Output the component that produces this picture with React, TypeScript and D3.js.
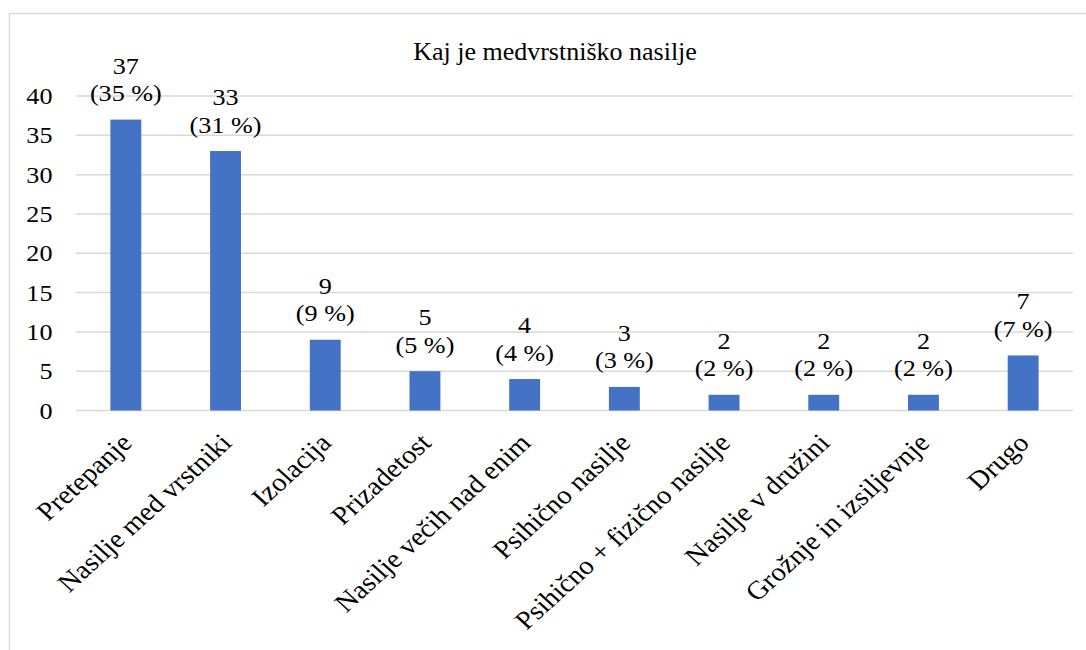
import React from "react";
import * as d3 from "d3";

const categories = [
  "Pretepanje",
  "Nasilje med vrstniki",
  "Izolacija",
  "Prizadetost",
  "Nasilje večih nad enim",
  "Psihično nasilje",
  "Psihično + fizično nasilje",
  "Nasilje v družini",
  "Grožnje in izsiljevnje",
  "Drugo",
];
const counts = [37, 33, 9, 5, 4, 3, 2, 2, 2, 7];
const percents = [35, 31, 9, 5, 4, 3, 2, 2, 2, 7];
const yTicks = [0, 5, 10, 15, 20, 25, 30, 35, 40];
const title = "Kaj je medvrstniško nasilje";

const W = 1086;
const H = 650;
const FONT = "Liberation Serif";
const ts: React.CSSProperties = { fontFamily: FONT };
const SX = 1.09;
const SX_CAT = 1.1;

export default function App() {
  const x = d3
    .scaleBand<string>()
    .domain(categories)
    .range([76, 1073])
    .paddingInner(0.69)
    .paddingOuter(0.345);
  const y = d3.scaleLinear().domain([0, 40]).range([410.5, 96]);

  return (
    <svg
      width={W}
      height={H}
      style={{ position: "absolute", left: 0, top: 0, background: "#fff" }}
    >
      <rect x={0} y={0} width={W} height={H} fill="#fff" />
      <rect
        x={9.5}
        y={13.5}
        width={1200}
        height={800}
        fill="none"
        stroke="#d9d9d9"
        strokeWidth={1.5}
      />
      <g transform={`translate(555,60) scale(1.04,1)`}>
        <text textAnchor="middle" fontSize={25} fill="#000" style={ts}>
          {title}
        </text>
      </g>
      {yTicks.map((t) => (
        <g key={t}>
          <line
            x1={76}
            x2={1073}
            y1={y(t)}
            y2={y(t)}
            stroke="#d9d9d9"
            strokeWidth={1.5}
          />
          <g transform={`translate(52.5,${y(t)}) scale(${SX},1)`}>
            <text
              dy="0.34em"
              textAnchor="end"
              fontSize={24}
              fill="#000"
              style={ts}
            >
              {t}
            </text>
          </g>
        </g>
      ))}
      {categories.map((c, i) => {
        const cx = (x(c) as number) + x.bandwidth() / 2;
        const top = y(counts[i]);
        return (
          <g key={c}>
            <rect
              x={x(c)}
              y={top}
              width={x.bandwidth()}
              height={y(0) - top}
              fill="#4472c4"
            />
            <g transform={`translate(${cx},${top - 46}) scale(${SX},1)`}>
              <text textAnchor="middle" fontSize={24} fill="#000" style={ts}>
                {counts[i]}
              </text>
            </g>
            <g transform={`translate(${cx},${top - 18.5}) scale(${SX},1)`}>
              <text textAnchor="middle" fontSize={24} fill="#000" style={ts}>
                {`(${percents[i]} %)`}
              </text>
            </g>
            <g
              transform={`translate(${cx + 0.5},${438}) scale(${SX_CAT},1) rotate(-45)`}
            >
              <text
                dy="0.35em"
                textAnchor="end"
                fontSize={26}
                fill="#000"
                style={ts}
              >
                {c}
              </text>
            </g>
          </g>
        );
      })}
    </svg>
  );
}
